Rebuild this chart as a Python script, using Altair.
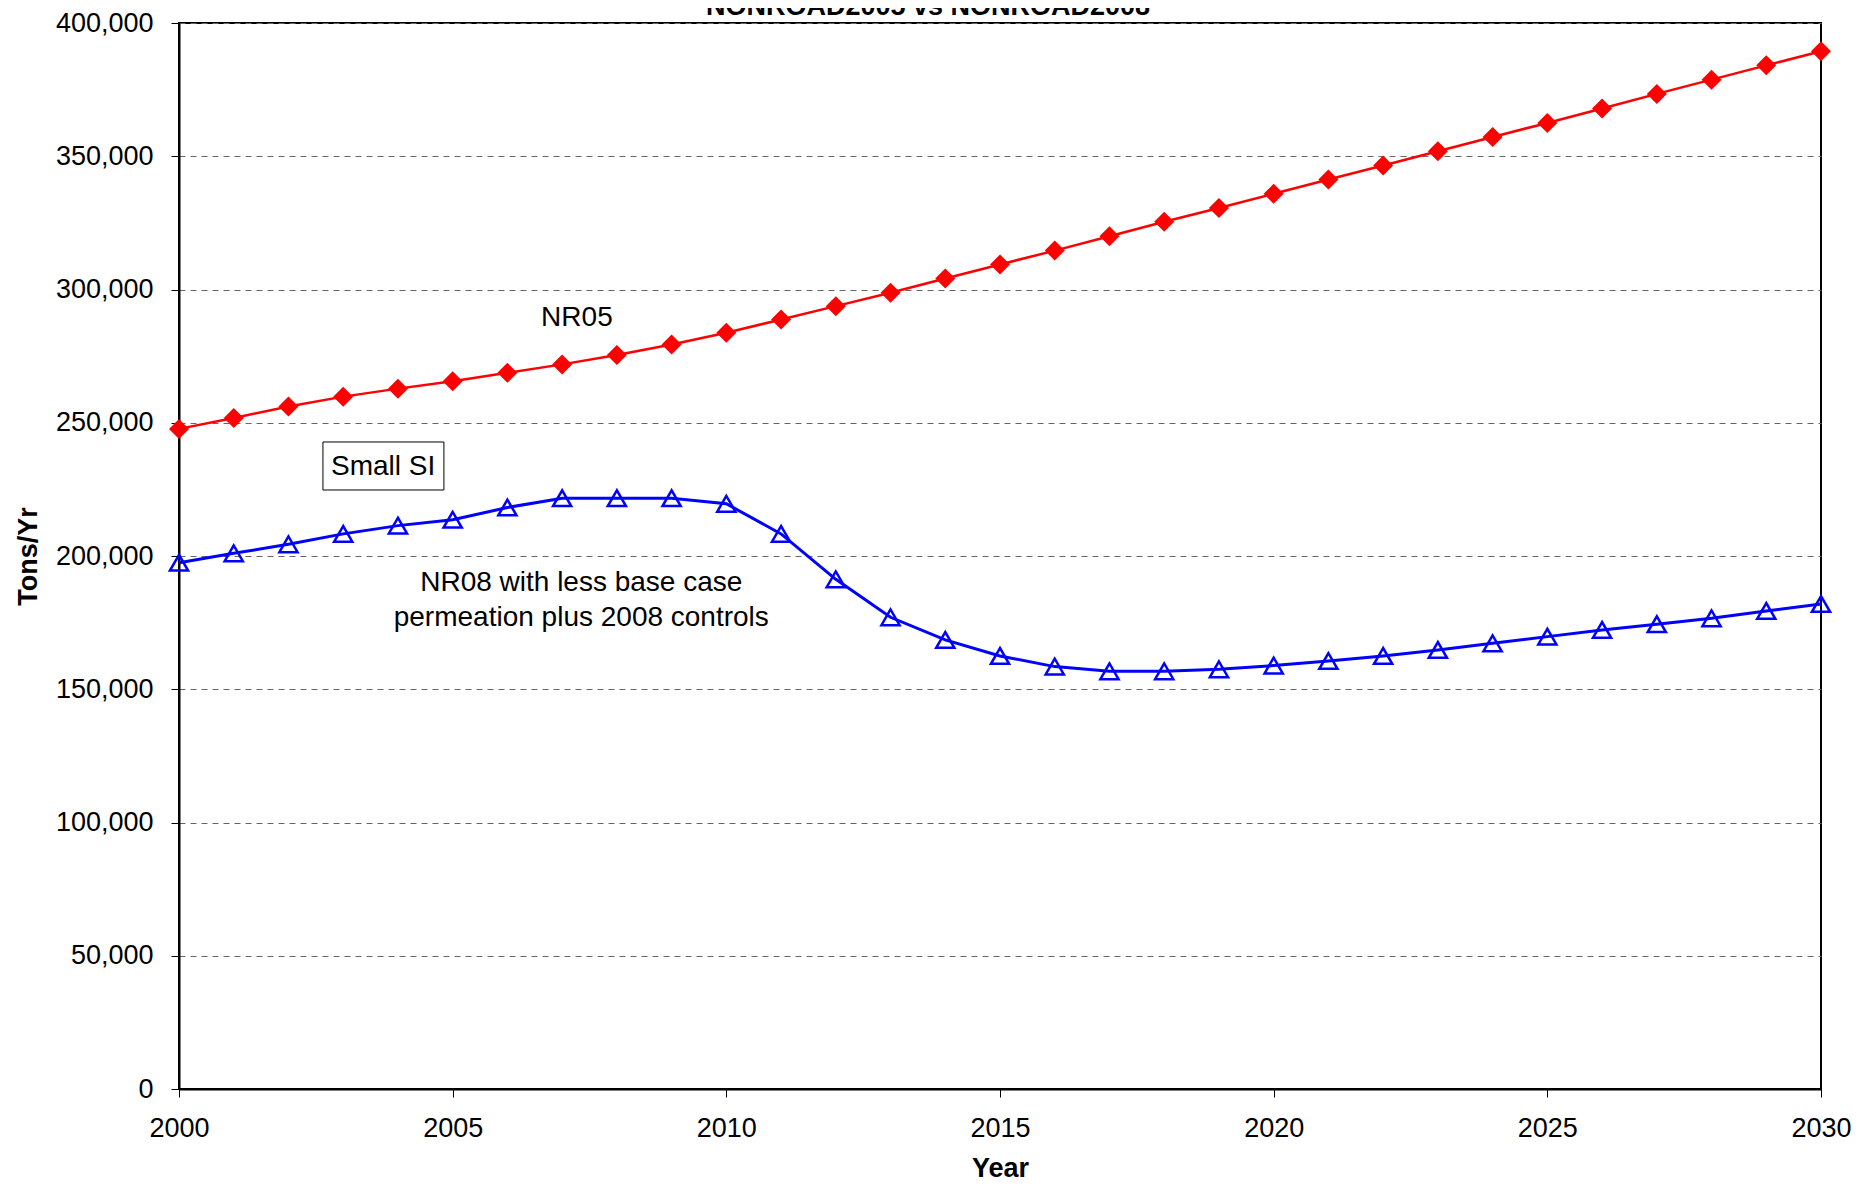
import altair as alt
import pandas as pd

years = list(range(2000, 2031))
nr05 = [247700, 251800, 256100, 259800, 262800, 265600, 268750, 271900, 275400, 279400,
        283750, 288750, 293750, 298750, 304100, 309400, 314600, 320000, 325400, 330600,
        335900, 341250, 346500, 351900, 357250, 362500, 367900, 373400, 378750, 384100,
        389400]
nr08 = [197500, 201000, 204400, 208300, 211400, 213600, 218200, 221700, 221700, 221700,
        219600, 208300, 191250, 177000, 168500, 162500, 158500, 156750, 156750, 157500,
        158900, 160600, 162500, 164750, 167250, 169750, 172250, 174400, 176600, 179400,
        182000]
x_ticks = [2000, 2005, 2010, 2015, 2020, 2025, 2030]
y_ticks = [0, 50000, 100000, 150000, 200000, 250000, 300000, 350000, 400000]

FONT = "Liberation Sans"
FS = 27
AFS = 28

df05 = pd.DataFrame({"Year": years, "Value": nr05})
df08 = pd.DataFrame({"Year": years, "Value": nr08})

xenc = alt.X("Year:Q",
             scale=alt.Scale(domain=[2000, 2030], nice=False, zero=False),
             axis=alt.Axis(values=x_ticks, format="d", title="Year", grid=False,
                           labelFlush=False, labelOverlap=False, tickSize=8,
                           labelPadding=18, titlePadding=14))
yenc = alt.Y("Value:Q",
             scale=alt.Scale(domain=[0, 400000], nice=False),
             axis=alt.Axis(values=y_ticks, format=",d", title="Tons/Yr", grid=True,
                           gridDash=[6, 5], gridColor="#666666", gridWidth=1,
                           labelFlush=False, labelOverlap=False, tickSize=8,
                           labelPadding=18, titlePadding=13))

line05 = alt.Chart(df05).mark_line(color="#ff0000", strokeWidth=2.5).encode(x=xenc, y=yenc)
pts05 = alt.Chart(df05).mark_point(shape="diamond", filled=True, color="#ff0000",
                                   size=400, opacity=1).encode(x=xenc, y=yenc)
line08 = alt.Chart(df08).mark_line(color="#0000ff", strokeWidth=3).encode(x=xenc, y=yenc)
pts08 = alt.Chart(df08).mark_point(shape="triangle-up", filled=False, color="#0000ff",
                                   fill="white", fillOpacity=0, strokeWidth=2.5,
                                   size=330, opacity=1).encode(x=xenc, y=yenc)

ann = pd.DataFrame({"d": [0]})


def txt(text, xv, yv, **kw):
    return alt.Chart(ann).mark_text(font=FONT, fontSize=AFS, color="black",
                                    align="center", baseline="middle", **kw).encode(
        x=alt.datum(xv), y=alt.datum(yv), text=alt.value(text))


lab05 = txt("NR05", 2007.27, 289300)
box = alt.Chart(ann).mark_rect(fill="white", stroke="black", strokeWidth=1).encode(
    x=alt.datum(2002.63), x2=alt.datum(2004.84),
    y=alt.datum(242780), y2=alt.datum(224770))
labSI = txt("Small SI", 2003.73, 233400)
lab08a = txt("NR08 with less base case", 2007.35, 189870)
lab08b = txt("permeation plus 2008 controls", 2007.35, 176740)

title = alt.Chart(ann).mark_text(font=FONT, fontSize=27, fontWeight="bold", color="black",
                                 align="center", baseline="alphabetic").encode(
    x=alt.value(749), y=alt.value(-8), text=alt.value("NONROAD2005 vs NONROAD2008"))

chart = alt.layer(line05, pts05, line08, pts08, box, lab05, labSI, lab08a, lab08b, title).properties(
    width=1642, height=1066,
    autosize=alt.AutoSizeParams(type="none"),
    padding={"left": 171, "top": 15, "right": 41, "bottom": 95},
    background="white",
).configure_axis(
    labelFont=FONT, labelFontSize=FS, labelColor="black",
    titleFont=FONT, titleFontSize=FS, titleFontWeight="bold", titleColor="black",
    tickColor="black", tickWidth=1, domainColor="black", domainWidth=2,
).configure_view(stroke="black", strokeWidth=2)

chart.save("out.html", embed_options={"renderer": "svg", "actions": False})
